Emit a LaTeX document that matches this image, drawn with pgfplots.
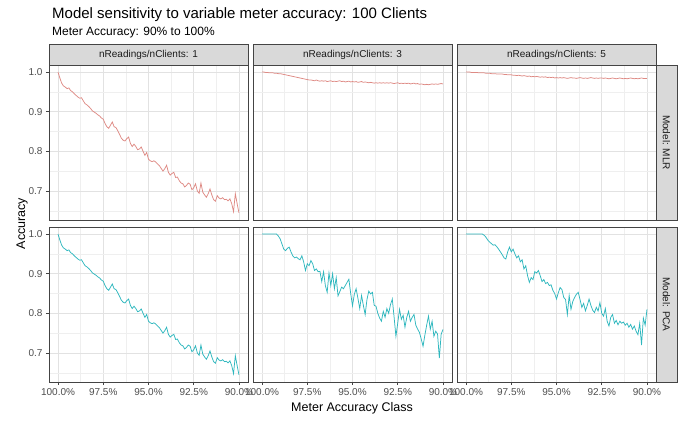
\documentclass[border=0pt]{standalone}
\usepackage{pgfplots}
\pgfplotsset{compat=1.18}
\usepackage{pgfplotstable}
\usepackage{fontspec}
\setmainfont{Liberation Sans}

\definecolor{mlr}{HTML}{DE8A84}
\definecolor{pca}{HTML}{2EB7BE}
\definecolor{gridmaj}{HTML}{E2E2E2}
\definecolor{gridmin}{HTML}{EFEFEF}
\definecolor{frame}{HTML}{444444}
\definecolor{stripfill}{HTML}{D9D9D9}
\definecolor{ticktext}{HTML}{4D4D4D}
\definecolor{striptext}{HTML}{1A1A1A}

% accuracy by meter accuracy class
% a: 1 reading per client (MLR and PCA), b: MLR 3, c: MLR 5, d: PCA 3, e: PCA 5
\pgfplotstableread{
x a b c d e
100.0 1.000 1.000 1.000 1.000 1.000
99.9 0.985 1.000 1.000 1.000 1.000
99.8 0.972 0.999 1.000 1.000 1.000
99.7 0.965 0.999 0.999 1.000 1.000
99.6 0.962 0.998 0.999 1.000 1.000
99.5 0.958 0.998 0.999 1.000 1.000
99.4 0.960 0.998 0.999 1.000 1.000
99.3 0.953 0.997 0.998 1.000 1.000
99.2 0.950 0.997 0.998 1.000 1.000
99.1 0.945 0.996 0.998 0.995 1.000
99.0 0.941 0.996 0.998 0.988 0.997
98.9 0.937 0.995 0.997 0.975 0.992
98.8 0.934 0.994 0.997 0.962 0.985
98.7 0.935 0.993 0.997 0.958 0.980
98.6 0.927 0.992 0.996 0.964 0.976
98.5 0.920 0.991 0.996 0.967 0.972
98.4 0.917 0.990 0.996 0.955 0.973
98.3 0.913 0.989 0.995 0.945 0.968
98.2 0.908 0.988 0.995 0.940 0.962
98.1 0.902 0.987 0.995 0.942 0.955
98.0 0.899 0.986 0.995 0.938 0.948
97.9 0.896 0.985 0.994 0.935 0.940
97.8 0.892 0.984 0.994 0.945 0.937
97.7 0.889 0.983 0.993 0.930 0.955
97.6 0.884 0.982 0.993 0.908 0.967
97.5 0.881 0.981 0.993 0.925 0.955
97.4 0.870 0.980 0.992 0.920 0.962
97.3 0.862 0.980 0.992 0.933 0.950
97.2 0.858 0.979 0.991 0.925 0.940
97.1 0.866 0.978 0.992 0.908 0.945
97.0 0.874 0.980 0.991 0.912 0.930
96.9 0.862 0.978 0.990 0.905 0.935
96.8 0.860 0.977 0.991 0.906 0.912
96.7 0.852 0.978 0.990 0.880 0.920
96.6 0.843 0.977 0.989 0.905 0.895
96.5 0.833 0.978 0.990 0.870 0.878
96.4 0.828 0.976 0.988 0.853 0.890
96.3 0.826 0.977 0.989 0.902 0.885
96.2 0.832 0.978 0.988 0.870 0.905
96.1 0.836 0.976 0.989 0.900 0.902
96.0 0.820 0.977 0.988 0.862 0.908
95.9 0.812 0.976 0.987 0.890 0.895
95.8 0.818 0.977 0.988 0.844 0.880
95.7 0.812 0.978 0.987 0.855 0.885
95.6 0.804 0.976 0.988 0.866 0.875
95.5 0.806 0.977 0.986 0.862 0.878
95.4 0.811 0.975 0.987 0.870 0.870
95.3 0.800 0.976 0.986 0.878 0.872
95.2 0.790 0.977 0.987 0.886 0.858
95.1 0.797 0.975 0.985 0.850 0.850
95.0 0.780 0.976 0.986 0.819 0.836
94.9 0.776 0.975 0.985 0.848 0.852
94.8 0.774 0.976 0.986 0.862 0.865
94.7 0.776 0.974 0.985 0.838 0.860
94.6 0.773 0.975 0.986 0.812 0.840
94.5 0.768 0.976 0.985 0.845 0.835
94.4 0.764 0.974 0.984 0.820 0.797
94.3 0.757 0.975 0.985 0.797 0.845
94.2 0.750 0.974 0.986 0.835 0.810
94.1 0.756 0.973 0.985 0.856 0.830
94.0 0.765 0.974 0.985 0.849 0.840
93.9 0.747 0.973 0.984 0.853 0.848
93.8 0.740 0.972 0.985 0.820 0.853
93.7 0.744 0.973 0.986 0.818 0.835
93.6 0.747 0.972 0.985 0.800 0.815
93.5 0.734 0.973 0.984 0.788 0.825
93.4 0.735 0.972 0.985 0.780 0.806
93.3 0.726 0.973 0.984 0.805 0.820
93.2 0.720 0.972 0.985 0.790 0.836
93.1 0.718 0.973 0.986 0.812 0.820
93.0 0.710 0.972 0.985 0.800 0.808
92.9 0.714 0.973 0.984 0.822 0.802
92.8 0.720 0.972 0.985 0.836 0.815
92.7 0.717 0.971 0.984 0.790 0.806
92.6 0.703 0.972 0.985 0.742 0.827
92.5 0.708 0.973 0.985 0.775 0.800
92.4 0.718 0.971 0.984 0.810 0.793
92.3 0.700 0.972 0.985 0.785 0.812
92.2 0.694 0.971 0.984 0.795 0.780
92.1 0.720 0.972 0.983 0.765 0.768
92.0 0.697 0.971 0.984 0.790 0.790
91.9 0.690 0.972 0.985 0.805 0.797
91.8 0.684 0.970 0.984 0.780 0.775
91.7 0.693 0.971 0.983 0.790 0.782
91.6 0.705 0.972 0.984 0.797 0.771
91.5 0.690 0.970 0.985 0.770 0.780
91.4 0.678 0.971 0.984 0.760 0.775
91.3 0.674 0.969 0.983 0.752 0.778
91.2 0.688 0.970 0.984 0.735 0.770
91.1 0.682 0.969 0.983 0.717 0.775
91.0 0.680 0.968 0.984 0.745 0.765
90.9 0.683 0.969 0.985 0.770 0.772
90.8 0.678 0.968 0.984 0.793 0.760
90.7 0.679 0.969 0.983 0.760 0.768
90.6 0.675 0.970 0.984 0.780 0.755
90.5 0.680 0.969 0.983 0.742 0.746
90.4 0.668 0.970 0.984 0.755 0.775
90.3 0.648 0.969 0.985 0.748 0.720
90.2 0.693 0.970 0.984 0.687 0.788
90.1 0.668 0.971 0.984 0.747 0.770
90.0 0.645 0.970 0.984 0.759 0.810
}\acc

\pgfplotsset{
  facet/.style={
    scale only axis, width=199pt, height=155pt,
    xmin=89.5, xmax=100.5, x dir=reverse,
    ymin=0.6267, ymax=1.0178,
    xtick={90,92.5,95,97.5,100},
    minor xtick={91.25,93.75,96.25,98.75},
    ytick={0.7,0.8,0.9,1.0},
    minor ytick={0.65,0.75,0.85,0.95},
    xticklabels={}, yticklabels={},
    grid=both,
    major grid style={draw=gridmaj, line width=0.55pt},
    minor grid style={draw=gridmin, line width=0.35pt},
    axis line style={draw=frame, line width=0.7pt},
    major tick length=3pt, minor tick length=0pt,
    tick style={draw=frame, line width=0.5pt},
    minor tick style={draw=none},
    tick align=outside, xtick pos=bottom, ytick pos=left,
    tick label style={font=\fontsize{10}{12}\selectfont, text=ticktext},
    xtick style={draw=none}, ytick style={draw=none},
  },
  xlabs/.style={
    xticklabels={90.0\%,92.5\%,95.0\%,97.5\%,100.0\%},
    xtick style={draw=frame, line width=0.5pt},
  },
  ylabs/.style={
    yticklabels={0.7,0.8,0.9,1.0},
    ytick style={draw=frame, line width=0.5pt},
  },
  mlrline/.style={mlr, line width=0.75pt},
  pcaline/.style={pca, line width=0.75pt},
}

\begin{document}
\begin{tikzpicture}[x=1pt, y=1pt]
\useasboundingbox (0,0) rectangle (682,422);

% top row: MLR
\begin{axis}[facet, ylabs, at={(49pt,202pt)}, anchor=south west]
  \addplot[mlrline] table[x=x, y=a] {\acc};
\end{axis}
\begin{axis}[facet, at={(253pt,202pt)}, anchor=south west]
  \addplot[mlrline] table[x=x, y=b] {\acc};
\end{axis}
\begin{axis}[facet, at={(457pt,202pt)}, anchor=south west]
  \addplot[mlrline] table[x=x, y=c] {\acc};
\end{axis}

% bottom row: PCA
\begin{axis}[facet, xlabs, ylabs, at={(49pt,40pt)}, anchor=south west]
  \addplot[pcaline] table[x=x, y=a] {\acc};
\end{axis}
\begin{axis}[facet, xlabs, at={(253pt,40pt)}, anchor=south west]
  \addplot[pcaline] table[x=x, y=d] {\acc};
\end{axis}
\begin{axis}[facet, xlabs, at={(457pt,40pt)}, anchor=south west]
  \addplot[pcaline] table[x=x, y=e] {\acc};
\end{axis}

% column strips
\foreach \xa/\lab in {49/1, 253/3, 457/5}{
  \draw[fill=stripfill, draw=frame, line width=0.7pt] (\xa,357) rectangle ({\xa+199},378);
  \node[font=\fontsize{10}{12}\selectfont, text=striptext] at ({\xa+99.5},367.5) {nReadings/nClients: \lab};
}
% row strips
\draw[fill=stripfill, draw=frame, line width=0.7pt] (656,202) rectangle (677,357);
\node[rotate=-90, font=\fontsize{10}{12}\selectfont, text=striptext] at (666.5,279.5) {Model: MLR};
\draw[fill=stripfill, draw=frame, line width=0.7pt] (656,40) rectangle (677,195);
\node[rotate=-90, font=\fontsize{10}{12}\selectfont, text=striptext] at (666.5,117.5) {Model: PCA};

% titles and axis titles
\node[anchor=base west, inner sep=0pt, font=\fontsize{15}{18}\selectfont] at (52,403) {Model sensitivity to variable meter accuracy: 100 Clients};
\node[anchor=base west, inner sep=0pt, font=\fontsize{12}{14}\selectfont] at (52,386) {Meter Accuracy: 90\% to 100\%};
\node[rotate=90, font=\fontsize{12.5}{15}\selectfont] at (22,198.5) {Accuracy};
\node[font=\fontsize{12.5}{15}\selectfont] at (352,14) {Meter Accuracy Class};
\end{tikzpicture}
\end{document}
